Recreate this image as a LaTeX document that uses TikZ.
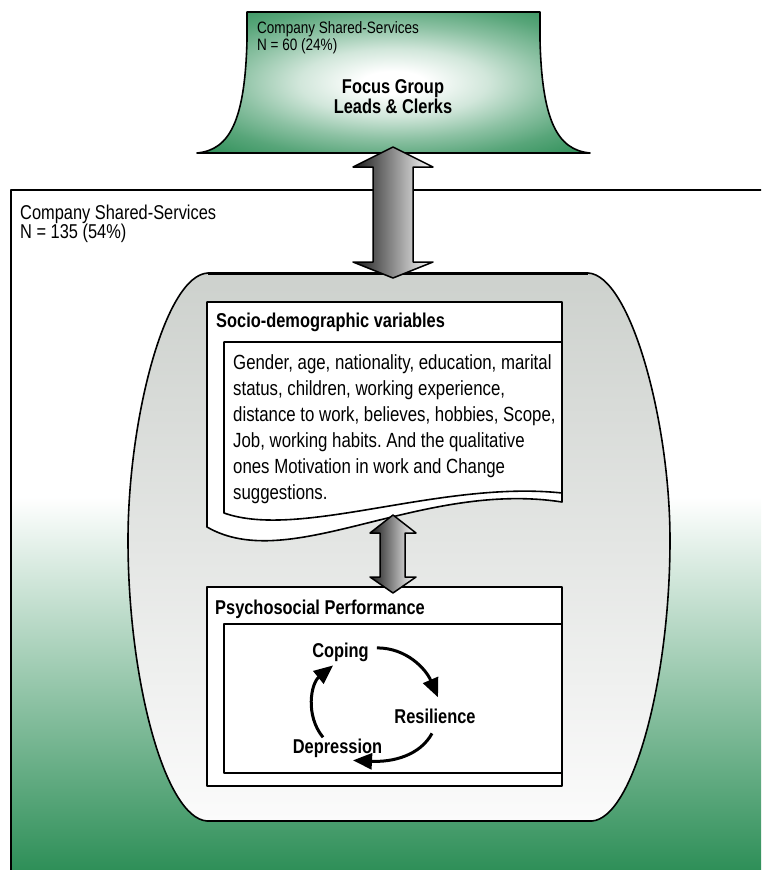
\documentclass[tikz,border=0pt]{standalone}
\usepackage{fontspec}
\setmainfont{Liberation Sans}[FakeStretch=0.82]
\usetikzlibrary{arrows.meta,calc}
\frenchspacing
\definecolor{sgreen}{RGB}{46,143,88}
\definecolor{sgray}{RGB}{205,209,205}
\definecolor{swhite}{RGB}{251,251,251}
\pgfdeclareradialshading{topglow}{\pgfpoint{0bp}{0bp}}{color(0bp)=(white); color(4bp)=(white); color(12bp)=(sgreen!22!white); color(20bp)=(sgreen!55!white); color(27bp)=(sgreen!80!white); color(35bp)=(sgreen); color(50bp)=(sgreen!90!black)}
\tikzset{
  outline/.style={draw=black, line width=1.6pt},
  blockarrow/.style={draw=black, line width=1.5pt, left color=black!90, right color=white},
  small/.style={font=\fontsize{16.5}{17}\selectfont, inner sep=0pt, align=left},
  normal/.style={font=\fontsize{20}{19}\selectfont, inner sep=0pt, align=left},
  bodytext/.style={font=\fontsize{20.5}{26}\selectfont, inner sep=0pt, align=left},
  boldtext/.style={font=\fontsize{20}{20}\selectfont\bfseries, inner sep=0pt, align=center},
  cyc/.style={line width=3pt, -{Triangle[length=19pt,width=16pt]}}
}
\begin{document}
\begin{tikzpicture}[x=1pt,y=-1pt,line join=round]
\useasboundingbox (0,0) rectangle (761,870);
\clip (0,0) rectangle (761,870);
% outer box
\fill[white] (11,190) rectangle (761,498);
\shade[top color=white, bottom color=sgreen] (11,497) rectangle (761,870);
\draw[line width=1.5pt] (780,190) -- (11,190) -- (11,880);
\node[normal, anchor=north west] (outerlbl) at (20,204.5) {Company Shared-Services\\N = 135 (54\%)};
% top shape
\path[shade, shading=topglow, outline] (247,12) -- (540,12) -- (540,40) .. controls (542,120) and (557,150) .. (590,153) -- (197,153) .. controls (230,150) and (245,120) .. (247,40) -- cycle;
\draw[line width=2.5pt] (197,153) -- (590,153);
\node[small, anchor=north west] (toplbl) at (257,21) {Company Shared-Services\\N = 60 (24\%)};
\node[boldtext, anchor=north] (focus) at (393,79.5) {Focus Group\\Leads \& Clerks};
% inner shape
\path[outline, top color=sgray, bottom color=swhite] (208,273) -- (588,273) .. controls (630,275) and (670,420) .. (670,540) .. controls (670,680) and (633,818) .. (592,821) -- (207,821) .. controls (165,818) and (128,680) .. (128,540) .. controls (128,420) and (165,275) .. (208,273) -- cycle;
\draw[line width=3pt] (208,273) -- (588,273);
% top double arrow
\path[blockarrow] (393,147) -- (433,167) -- (413,167) -- (413,262) -- (433,262) -- (393,278) -- (353,262) -- (373,262) -- (373,167) -- (353,167) -- cycle;
% socio box
\path[outline, fill=white] (207,302) -- (562,302) -- (562,502) .. controls (420,480) and (290,575) .. (207,527) -- cycle;
\path[outline, fill=white] (224,342) -- (562,342) -- (562,493) .. controls (440,480) and (300,540) .. (224,513) -- cycle;
\node[normal, font=\fontsize{20}{20}\selectfont\bfseries, anchor=base west] (sociot) at (216,327) {Socio-demographic variables};
\node[bodytext, anchor=north west] (sociob) at (233,354.5) {Gender, age, nationality, education, marital\\status, children, working experience,\\distance to work, believes, hobbies, Scope,\\Job, working habits. And the qualitative\\ones Motivation in work and Change\\suggestions.};
% psych box
\draw[outline, fill=white] (207,587) rectangle (562,786);
\draw[outline, fill=white] (224,624) rectangle (562,773);
\node[normal, font=\fontsize{20}{20}\selectfont\bfseries, anchor=base west] (psycht) at (215,614) {Psychosocial Performance};
% middle double arrow
\path[blockarrow] (393,515) -- (416,533) -- (405,533) -- (405,577) -- (416,577) -- (393,593) -- (370,577) -- (380,577) -- (380,533) -- (370,533) -- cycle;
% cycle
\node[boldtext, anchor=base] (coping) at (340.5,657) {Coping};
\node[boldtext, anchor=base] (resil) at (435,723) {Resilience};
\node[boldtext, anchor=base] (depr) at (337.5,753) {Depression};
\draw[cyc] ($(coping.east)+(8,-4)$) .. controls +(30,0) and +(-12,-28) .. ($(resil.north)+(3,-11)$);
\draw[cyc] ($(resil.south)+(-3,10)$) .. controls +(-12,22) and +(40,2) .. ($(depr.south)+(15.5,3)$);
\draw[cyc] ($(depr.north)+(-14.5,-1)$) .. controls +(-18,-22) and +(-22,18) .. ($(coping.south)+(-7.5,4)$);
\end{tikzpicture}
\end{document}
